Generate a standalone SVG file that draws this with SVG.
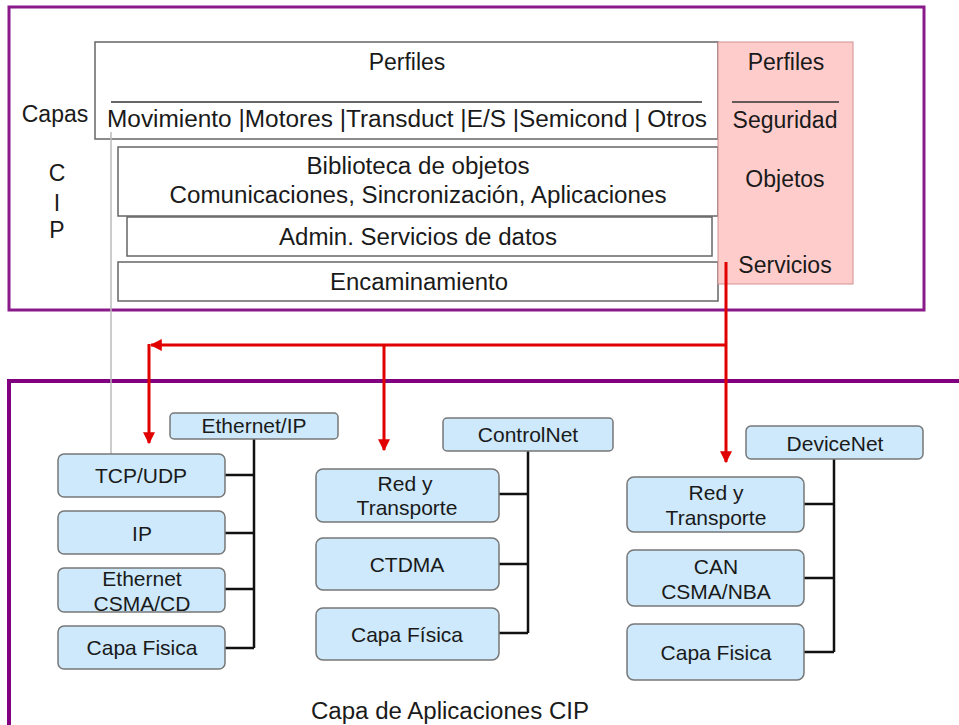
<svg xmlns="http://www.w3.org/2000/svg" width="959" height="725" viewBox="0 0 959 725">
<defs>
<style>
.t{font-family:"Liberation Sans",Arial,sans-serif;fill:#1a1a1a;text-anchor:middle}
.top{font-size:23px}
.bt{font-size:21px}
.box{fill:#fff;stroke:#666;stroke-width:1.5}
.nb{fill:#cde9fb;stroke:#777;stroke-width:1.5}
.blk{fill:none;stroke:#111;stroke-width:2.5}
.red{fill:none;stroke:#e00000;stroke-width:3}
</style>
<marker id="ah" viewBox="0 0 10 10" refX="9" refY="5" markerWidth="4" markerHeight="4" orient="auto" markerUnits="strokeWidth">
<path d="M0,0 L10,5 L0,10 z" fill="#e00000"/>
</marker>
</defs>
<rect width="959" height="725" fill="#fff"/>

<g id="cip-frame">
<rect x="9" y="7" width="915" height="303" fill="none" stroke="#8a1a8a" stroke-width="3"/>
</g>
<g id="app-frame">
<path d="M9,727 V381 H961" fill="none" stroke="#800080" stroke-width="4"/>
</g>

<g id="capas-label">
<text class="t top" x="55" y="122">Capas</text>
<text class="t top" x="57" y="181">C</text>
<text class="t top" x="57" y="211">I</text>
<text class="t top" x="57" y="238">P</text>
</g>

<g id="perfiles">
<rect class="box" x="95" y="42" width="623" height="97"/>
<text class="t top" x="407" y="70">Perfiles</text>
<line x1="111" y1="102" x2="702" y2="102" stroke="#333" stroke-width="1.5"/>
<text class="t top" x="407" y="127" textLength="600" lengthAdjust="spacingAndGlyphs">Movimiento |Motores |Transduct |E/S |Semicond  | Otros</text>
</g>

<g id="biblioteca">
<rect class="box" x="118" y="147" width="600" height="69"/>
<text class="t top" x="418" y="174" textLength="223" lengthAdjust="spacingAndGlyphs">Biblioteca de objetos</text>
<text class="t top" x="418" y="203" textLength="497" lengthAdjust="spacingAndGlyphs">Comunicaciones, Sincronización, Aplicaciones</text>
</g>

<g id="admin">
<rect class="box" x="127" y="217" width="585" height="39"/>
<text class="t top" x="418" y="245" textLength="278" lengthAdjust="spacingAndGlyphs">Admin. Servicios de datos</text>
</g>

<g id="encaminamiento">
<rect class="box" x="118" y="262" width="600" height="39"/>
<text class="t top" x="419" y="290" textLength="178" lengthAdjust="spacingAndGlyphs">Encaminamiento</text>
</g>

<g id="seguridad">
<rect x="718" y="42" width="135" height="242" fill="#ffcccc" stroke="#d09090" stroke-width="1"/>
<text class="t top" x="786" y="70">Perfiles</text>
<line x1="732" y1="102" x2="839" y2="102" stroke="#333" stroke-width="1.5"/>
<text class="t top" x="785" y="128">Seguridad</text>
<text class="t top" x="785" y="187">Objetos</text>
<text class="t top" x="785" y="273">Servicios</text>
</g>

<g id="connectors">
<line x1="111" y1="132" x2="111" y2="454" stroke="#bbb" stroke-width="1.5"/>
<line class="red" x1="726" y1="262" x2="726" y2="462" marker-end="url(#ah)"/>
<line class="red" x1="726" y1="345" x2="151" y2="345" marker-end="url(#ah)"/>
<line class="red" x1="149" y1="344" x2="149" y2="443" marker-end="url(#ah)"/>
<line class="red" x1="384" y1="345" x2="384" y2="450" marker-end="url(#ah)"/>
<path class="blk" d="M254,439 V648 M225,475 H254 M225,533 H254 M225,589 H254 M225,648 H254"/>
<path class="blk" d="M528,451 V633 M499,494 H528 M499,564 H528 M499,633 H528"/>
<path class="blk" d="M834,459 V652 M804,504 H834 M804,578 H834 M804,652 H834"/>
</g>

<g id="ethernetip">
<rect class="nb" x="170" y="413" width="168" height="26" rx="4"/>
<text class="t bt" x="254" y="433">Ethernet/IP</text>
</g>
<g id="tcpudp">
<rect class="nb" x="58" y="454" width="167" height="43" rx="6"/>
<text class="t bt" x="141" y="483">TCP/UDP</text>
</g>
<g id="ip">
<rect class="nb" x="58" y="511" width="167" height="43" rx="6"/>
<text class="t bt" x="142" y="541">IP</text>
</g>
<g id="ethernet-csma">
<rect class="nb" x="58" y="568" width="167" height="44" rx="6"/>
<text class="t bt" x="142" y="586" font-size="20">Ethernet</text>
<text class="t bt" x="142" y="611" font-size="20">CSMA/CD</text>
</g>
<g id="capa-fisica-1">
<rect class="nb" x="58" y="626" width="167" height="43" rx="6"/>
<text class="t bt" x="142" y="655">Capa Fisica</text>
</g>

<g id="controlnet">
<rect class="nb" x="443" y="418" width="170" height="33" rx="4"/>
<text class="t bt" x="528" y="442">ControlNet</text>
</g>
<g id="red-transporte-1">
<rect class="nb" x="316" y="469" width="183" height="53" rx="7"/>
<text class="t bt" x="405" y="491">Red y</text>
<text class="t bt" x="407" y="515">Transporte</text>
</g>
<g id="ctdma">
<rect class="nb" x="316" y="538" width="183" height="52" rx="7"/>
<text class="t bt" x="407" y="572">CTDMA</text>
</g>
<g id="capa-fisica-2">
<rect class="nb" x="316" y="608" width="183" height="52" rx="7"/>
<text class="t bt" x="407" y="642">Capa Física</text>
</g>

<g id="devicenet">
<rect class="nb" x="746" y="426" width="177" height="33" rx="5"/>
<text class="t bt" x="835" y="451">DeviceNet</text>
</g>
<g id="red-transporte-2">
<rect class="nb" x="627" y="477" width="177" height="55" rx="7"/>
<text class="t bt" x="716" y="500">Red  y</text>
<text class="t bt" x="716" y="525">Transporte</text>
</g>
<g id="can">
<rect class="nb" x="627" y="550" width="177" height="56" rx="7"/>
<text class="t bt" x="716" y="574">CAN</text>
<text class="t bt" x="716" y="599">CSMA/NBA</text>
</g>
<g id="capa-fisica-3">
<rect class="nb" x="627" y="624" width="177" height="56" rx="7"/>
<text class="t bt" x="716" y="660">Capa Fisica</text>
</g>

<g id="app-label">
<text class="t top" x="450" y="719" textLength="278" lengthAdjust="spacingAndGlyphs">Capa de Aplicaciones CIP</text>
</g>
</svg>
